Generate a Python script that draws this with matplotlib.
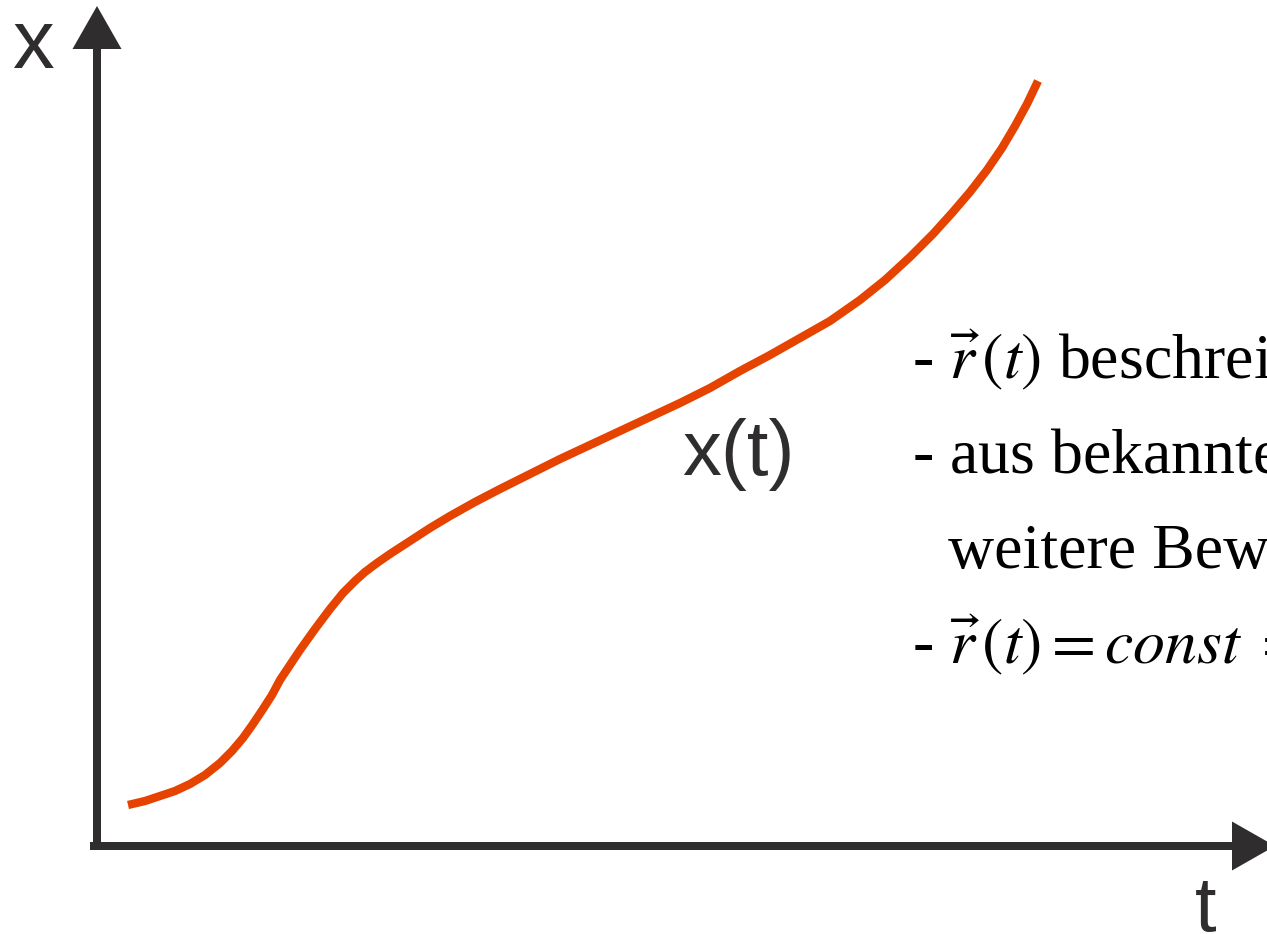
import numpy as np
import matplotlib.pyplot as plt

plt.rcParams['mathtext.fontset'] = 'stix'

# path x(t), in pixel-sized units measured from the origin of the axes
t_vals = [31, 48, 63, 78, 93, 108, 123, 135, 146, 156,
          166, 175, 183, 193, 203, 218, 233, 246, 258, 268,
          280, 293, 313, 333, 353, 378, 403, 433, 463, 493,
          523, 553, 583, 613, 643, 673, 703, 733, 763, 788,
          813, 836, 855, 873, 890, 905, 918, 930, 941]
x_vals = [41, 45, 50, 55, 62, 71, 83, 95, 108, 122,
          137, 151, 166, 181, 196, 217, 237, 253, 265, 274,
          283, 292, 305, 318, 330, 344, 357, 372, 387, 401,
          415, 429, 443, 458, 475, 491, 508, 525, 546, 566,
          589, 612, 633, 654, 676, 698, 720, 742, 765]

axis_col = '#2f2d2e'
curve_col = '#e64300'

# bullet lines on the right
lines = [r'- $\vec{r}\,(t)$ beschreibt die Bahnkurve',
         r'- aus bekanntem $\vec{r}\,(t)$ lassen sich',
         r'weitere Bewegungsgrößen ableiten',
         r'- $\vec{r}\,(t) = const \;=\; \vec{r}_0$']

fig = plt.figure(figsize=(12.67, 9.34), dpi=100)
ax = fig.add_axes([0, 0, 1, 1])
# origin of the axes sits at pixel (97, 846)
ax.set_xlim(-97, 1170)
ax.set_ylim(-88, 846)
ax.axis('off')

# axes with arrow heads
ax.arrow(0, -4, 0, 844, width=8, head_width=49, head_length=43,
         length_includes_head=True, color=axis_col, lw=0)
ax.arrow(-7, 0, 1185, 0, width=8, head_width=49, head_length=43,
         length_includes_head=True, color=axis_col, lw=0)

ax.plot(t_vals, x_vals, color=curve_col, lw=6.0, solid_capstyle='butt',
        solid_joinstyle='round')

sans = 'Liberation Sans'
ax.text(-85, 778, 'x', fontsize=60, family=sans, color=axis_col, va='baseline')
ax.text(1098, -85, 't', fontsize=56, family=sans, color=axis_col, va='baseline')
ax.text(585, 371, 'x(t)', fontsize=56, family=sans, color=axis_col, va='baseline')

serif = 'Liberation Serif'
ax.text(815, 468, lines[0], fontsize=46, family=serif, color='black', va='baseline')
ax.text(815, 373, lines[1], fontsize=46, family=serif, color='black', va='baseline')
ax.text(851, 278, lines[2], fontsize=46, family=serif, color='black', va='baseline')
ax.text(815, 183, lines[3], fontsize=46, family=serif, color='black', va='baseline')

fig.savefig('out.png', dpi=100)
